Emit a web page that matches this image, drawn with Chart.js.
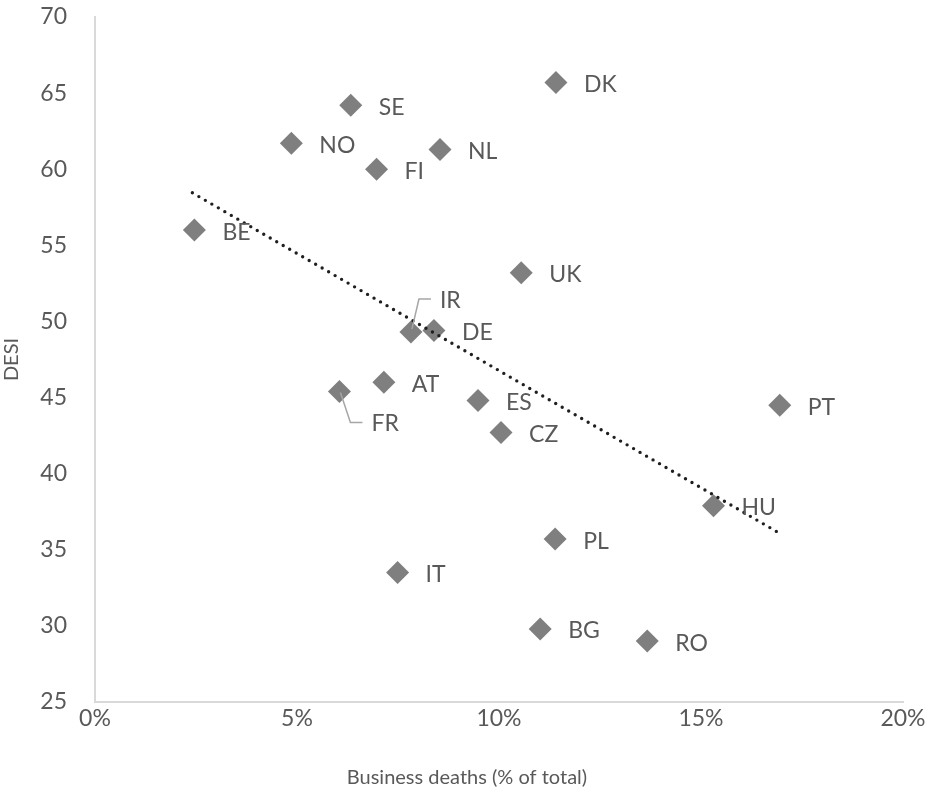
<!DOCTYPE html>
<html>
<head>
<meta charset="utf-8">
<script src="https://cdn.jsdelivr.net/npm/chart.js@4/dist/chart.umd.min.js"></script>
<style>
  body { margin: 0; background: #fff; }
  #wrap { width: 938px; height: 797px; }
</style>
</head>
<body>
<div id="wrap"><canvas id="desiChart" width="938" height="797"></canvas></div>
<script>
// Данные графика
const countries = ['DK', 'SE', 'NO', 'NL', 'FI', 'BE', 'UK', 'IR', 'DE', 'AT', 'FR', 'ES', 'PT', 'CZ', 'HU', 'PL', 'IT', 'BG', 'RO'];
const businessDeaths = [0.1141, 0.0633, 0.0486, 0.0854, 0.0697, 0.0246, 0.1055, 0.0782, 0.0839, 0.0715, 0.0605, 0.0948, 0.1695, 0.1005, 0.1531, 0.1139, 0.0749, 0.1102, 0.1367];
const desiScores = [65.7, 64.2, 61.7, 61.3, 60.0, 56.0, 53.2, 49.3, 49.4, 46.0, 45.4, 44.8, 44.5, 42.7, 37.9, 35.7, 33.5, 29.8, 29.0];

// Линия тренда (концы)
const trendX = [0.0241, 0.1687];
const trendY = [58.45, 36.2];

const yTicks = [25, 30, 35, 40, 45, 50, 55, 60, 65, 70];

// Подписи с выноской (сдвиг в пикселях)
const labelShift = { IR: [29, -33], FR: [32, 31] };

const FONT = 'Lato, "Open Sans", sans-serif';
const TEXT_COLOR = '#595959';

const labelsPlugin = {
    id: 'pointLabels',
    afterDatasetsDraw(chart) {
        const meta = chart.getDatasetMeta(0);
        const ctx = chart.ctx;
        ctx.save();
        ctx.font = '23px ' + FONT;
        ctx.fillStyle = TEXT_COLOR;
        ctx.textAlign = 'left';
        ctx.textBaseline = 'middle';
        meta.data.forEach((pt, i) => {
            const name = countries[i];
            const shift = labelShift[name];
            if (shift) {
                const tx = pt.x + shift[0];
                const ty = pt.y + shift[1];
                ctx.strokeStyle = '#a6a6a6';
                ctx.lineWidth = 1.5;
                ctx.beginPath();
                ctx.moveTo(pt.x + 1, pt.y + (shift[1] < 0 ? -3 : 1));
                ctx.lineTo(tx - 21, ty);
                ctx.lineTo(tx - 9, ty);
                ctx.stroke();
                ctx.fillText(name, tx, ty + 1);
            } else {
                ctx.fillText(name, pt.x + 28, pt.y + 2);
            }
        });

        // Подпись оси X (в Excel она чуть левее центра области)
        ctx.font = '20px ' + FONT;
        ctx.textAlign = 'center';
        ctx.fillText('Business deaths (% of total)', 467, 778);
        ctx.restore();
    }
};

const ctx = document.getElementById('desiChart').getContext('2d');
new Chart(ctx, {
    type: 'scatter',
    data: {
        datasets: [
            {
                data: businessDeaths.map((x, i) => ({ x: x, y: desiScores[i] })),
                pointStyle: 'rectRot',
                pointRadius: 11.5,
                pointHoverRadius: 11.5,
                backgroundColor: '#7f7f7f',
                borderWidth: 0,
                order: 1
            },
            {
                type: 'line',
                data: trendX.map((x, i) => ({ x: x, y: trendY[i] })),
                borderColor: '#1f1f1f',
                borderWidth: 3.4,
                borderDash: [0, 7.5],
                borderCapStyle: 'round',
                pointRadius: 0,
                fill: false,
                order: 0
            }
        ]
    },
    options: {
        responsive: false,
        animation: false,
        layout: { padding: { top: 17, right: 35, left: 0, bottom: 0 } },
        plugins: {
            legend: { display: false },
            tooltip: { enabled: false }
        },
        scales: {
            x: {
                type: 'linear',
                min: 0,
                max: 0.2,
                afterFit(scale) {
                    scale.height = 95;
                    scale.paddingLeft = 0;
                    scale.paddingRight = 0;
                },
                grid: { display: false, drawTicks: false },
                border: { display: true, color: '#d9d9d9', width: 2 },
                ticks: {
                    stepSize: 0.05,
                    padding: 3,
                    color: TEXT_COLOR,
                    font: { family: FONT, size: 23 },
                    callback: v => Math.round(v * 100) + '%'
                },
                title: { display: false }
            },
            y: {
                min: 25,
                max: 70,
                afterFit(scale) {
                    scale.width = 95;
                    scale.paddingTop = 0;
                    scale.paddingBottom = 0;
                },
                afterBuildTicks(scale) { scale.ticks = yTicks.map(v => ({ value: v })); },
                grid: { display: false, drawTicks: false },
                border: { display: true, color: '#d9d9d9', width: 2 },
                ticks: {
                    padding: 28,
                    color: TEXT_COLOR,
                    font: { family: FONT, size: 23 }
                },
                title: {
                    display: true,
                    text: 'DESI',
                    color: TEXT_COLOR,
                    font: { family: FONT, size: 20 },
                    padding: { top: 0, bottom: 0 }
                }
            }
        }
    },
    plugins: [labelsPlugin]
});
</script>
</body>
</html>
